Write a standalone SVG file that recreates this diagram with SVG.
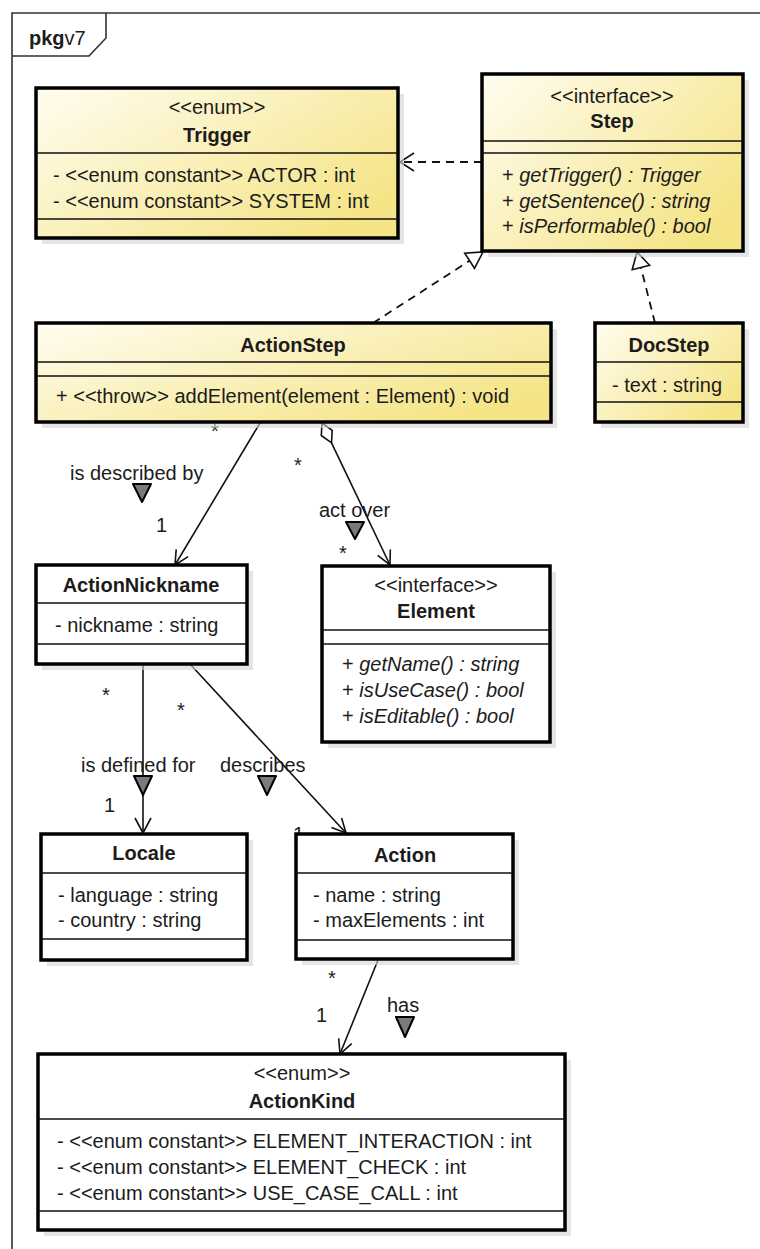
<svg xmlns="http://www.w3.org/2000/svg" width="760" height="1249" viewBox="0 0 760 1249">
<defs>
<linearGradient id="yel" x1="0" y1="0" x2="1" y2="0.7">
<stop offset="0" stop-color="#fffdf2"/>
<stop offset="1" stop-color="#f5e486"/>
</linearGradient>
</defs>
<style>
text{font-family:"Liberation Sans",Arial,sans-serif;font-size:20px;fill:#1c1c1c}
.b{font-weight:bold}
.i{font-style:italic}
.m{text-anchor:middle}
.box{stroke:#000;stroke-width:3.5}
.y{fill:url(#yel)}
.w{fill:#fff}
.sh{fill:#d4d4d4;opacity:.6}
.div{stroke:#111;stroke-width:1.6;fill:none}
.ln{stroke:#111;stroke-width:1.6;fill:none}
.dash{stroke:#111;stroke-width:1.8;fill:none;stroke-dasharray:8 6}
.hol{fill:#fff;stroke:#111;stroke-width:1.6}
.mk{fill:#7a7a7a;stroke:#000;stroke-width:2;stroke-linejoin:round}
</style>
<rect width="760" height="1249" fill="#fff"/>
<g id="frame">
<path d="M12,1249 V13 H760" fill="none" stroke="#333" stroke-width="1.6"/>
<path d="M12,56 H89 L106,38 V13" fill="none" stroke="#333" stroke-width="1.6"/>
<text x="29" y="45"><tspan class="b">pkg</tspan>v7</text>
</g>
<g id="connectors">
<path class="dash" d="M482,162 H401"/>
<path class="ln" d="M414,153 L400,162 L414,171"/>
<path class="dash" d="M373,323 L469.6,260.7"/>
<polygon class="hol" points="483,252 474.5,268.3 464.7,253.1"/>
<path class="dash" d="M655,323 L640.9,267.5"/>
<polygon class="hol" points="637,252 649.6,265.3 632.2,269.7"/>
<path class="ln" d="M260,423 L175,565"/>
<path class="ln" d="M188.2,556.6 L175,565 L176.2,549.4"/>
<text x="211" y="438">*</text>
<text x="70" y="480">is described by</text>
<polygon class="mk" points="133,484 151,484 142,502"/>
<text x="156" y="532">1</text>
<polygon class="hol" points="322,423 332.2,430.3 331.5,442.8 321.3,435.5"/>
<path class="ln" d="M331.5,442.8 L390,565"/>
<path class="ln" d="M390.3,549.4 L390,565 L377.7,555.4"/>
<text x="294" y="472">*</text>
<text x="319" y="517">act over</text>
<polygon class="mk" points="346,522 364,522 355,539"/>
<text x="339" y="560">*</text>
<path class="ln" d="M143,664 V833"/>
<path class="ln" d="M135,818 L143,833 L151,818"/>
<text x="102" y="702">*</text>
<text x="81" y="772">is defined for</text>
<polygon class="mk" points="134,776 152,776 143,795"/>
<text x="104" y="812">1</text>
<path class="ln" d="M190,664 L346,833"/>
<path class="ln" d="M341.6,818 L346,833 L331.4,827.4"/>
<text x="177" y="717">*</text>
<text x="220" y="772">describes</text>
<polygon class="mk" points="258,776 276,776 267,795"/>
<text x="293" y="841">1</text>
<path class="ln" d="M378,960 L340,1054"/>
<path class="ln" d="M351.7,1043.6 L340,1054 L338.7,1038.4"/>
<text x="328" y="985">*</text>
<text x="316" y="1022">1</text>
<text x="387" y="1012">has</text>
<polygon class="mk" points="396,1017 414,1017 405,1037"/>
</g>
<g id="Trigger">
<rect class="sh" x="42" y="94" width="362" height="150"/>
<rect class="box y" x="36" y="88" width="362" height="150"/>
<text class="m" x="217" y="114">&lt;&lt;enum&gt;&gt;</text>
<text class="m b" x="217" y="142">Trigger</text>
<path class="div" d="M36,153 H398 M36,219 H398"/>
<text x="53" y="182">- &lt;&lt;enum constant&gt;&gt; ACTOR : int</text>
<text x="53" y="208">- &lt;&lt;enum constant&gt;&gt; SYSTEM : int</text>
</g>
<g id="Step">
<rect class="sh" x="488" y="80" width="261" height="177"/>
<rect class="box y" x="482" y="74" width="261" height="177"/>
<text class="m" x="612" y="103">&lt;&lt;interface&gt;&gt;</text>
<text class="m b" x="612" y="128">Step</text>
<path class="div" d="M482,141 H743 M482,153 H743"/>
<text x="502" y="182">+ <tspan class="i">getTrigger() : Trigger</tspan></text>
<text x="502" y="208">+ <tspan class="i">getSentence() : string</tspan></text>
<text x="502" y="233">+ <tspan class="i">isPerformable() : bool</tspan></text>
</g>
<g id="ActionStep">
<rect class="sh" x="42" y="329" width="515" height="99"/>
<rect class="box y" x="36" y="323" width="515" height="99"/>
<text class="m b" x="293" y="352">ActionStep</text>
<path class="div" d="M36,362 H551 M36,376 H551"/>
<text x="56" y="403">+ &lt;&lt;throw&gt;&gt; addElement(element : Element) : void</text>
</g>
<g id="DocStep">
<rect class="sh" x="601" y="329" width="148" height="99"/>
<rect class="box y" x="595" y="323" width="148" height="99"/>
<text class="m b" x="669" y="352">DocStep</text>
<path class="div" d="M595,362 H743 M595,402 H743"/>
<text x="612" y="392">- text : string</text>
</g>
<g id="ActionNickname">
<rect class="sh" x="42" y="571" width="211" height="99"/>
<rect class="box w" x="36" y="565" width="211" height="99"/>
<text class="m b" x="141" y="592">ActionNickname</text>
<path class="div" d="M36,603 H247 M36,644 H247"/>
<text x="55" y="632">- nickname : string</text>
</g>
<g id="Element">
<rect class="sh" x="328" y="572" width="228" height="176"/>
<rect class="box w" x="322" y="566" width="228" height="176"/>
<text class="m" x="436" y="592">&lt;&lt;interface&gt;&gt;</text>
<text class="m b" x="436" y="618">Element</text>
<path class="div" d="M322,630 H550 M322,644 H550"/>
<text x="342" y="671">+ <tspan class="i">getName() : string</tspan></text>
<text x="342" y="697">+ <tspan class="i">isUseCase() : bool</tspan></text>
<text x="342" y="723">+ <tspan class="i">isEditable() : bool</tspan></text>
</g>
<g id="Locale">
<rect class="sh" x="47" y="840" width="206" height="126"/>
<rect class="box w" x="41" y="834" width="206" height="126"/>
<text class="m b" x="144" y="860">Locale</text>
<path class="div" d="M41,873 H247 M41,939 H247"/>
<text x="58" y="902">- language : string</text>
<text x="58" y="927">- country : string</text>
</g>
<g id="Action">
<rect class="sh" x="302" y="840" width="217" height="125"/>
<rect class="box w" x="296" y="834" width="217" height="125"/>
<text class="m b" x="405" y="862">Action</text>
<path class="div" d="M296,873 H513 M296,940 H513"/>
<text x="313" y="902">- name : string</text>
<text x="313" y="927">- maxElements : int</text>
</g>
<g id="ActionKind">
<rect class="sh" x="44" y="1060" width="527" height="176"/>
<rect class="box w" x="38" y="1054" width="527" height="176"/>
<text class="m" x="302" y="1080">&lt;&lt;enum&gt;&gt;</text>
<text class="m b" x="302" y="1108">ActionKind</text>
<path class="div" d="M38,1119 H565 M38,1211 H565"/>
<text x="57" y="1148">- &lt;&lt;enum constant&gt;&gt; ELEMENT_INTERACTION : int</text>
<text x="57" y="1174">- &lt;&lt;enum constant&gt;&gt; ELEMENT_CHECK : int</text>
<text x="57" y="1200">- &lt;&lt;enum constant&gt;&gt; USE_CASE_CALL : int</text>
</g>
</svg>
